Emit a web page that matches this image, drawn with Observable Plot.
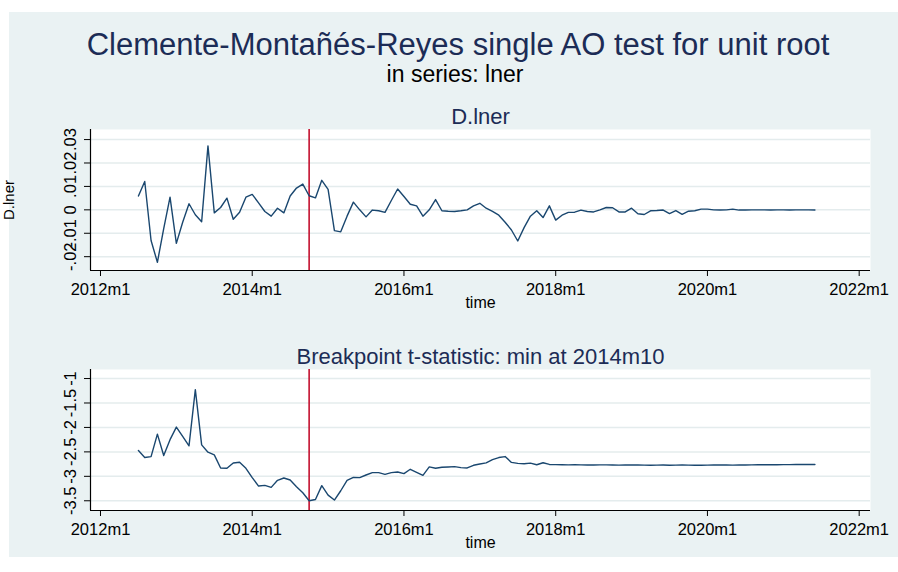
<!DOCTYPE html>
<html><head><meta charset="utf-8">
<script src="https://cdn.jsdelivr.net/npm/d3@7"></script>
<script src="https://cdn.jsdelivr.net/npm/@observablehq/plot@0.6"></script>
<style>
body{margin:0;background:#fff;font-family:"Liberation Sans",Arial,sans-serif;}
#page{position:relative;width:898px;height:572px;overflow:hidden;background:#fff;}
#region{position:absolute;left:9px;top:12px;width:889px;height:545px;background:#eaf2f3;}
.t{position:absolute;width:900px;text-align:center;white-space:nowrap;line-height:1;}
.p{position:absolute;left:0;}
.p svg{overflow:visible;}
</style></head><body>
<div id="page"><div id="region"></div>
<div class="t" id="title" style="left:8px;top:29px;font-size:31px;color:#1c2c56;">Clemente-Montañés-Reyes single AO test for unit root</div>
<div class="t" id="subtitle" style="left:5px;top:63px;font-size:23px;color:#000;">in series: lner</div>
<div class="p" id="top" style="top:100px;"></div>
<div class="p" id="bottom" style="top:340px;"></div>
</div>
<script>
// ---- data (monthly, Stata %tm) ----
const startMonth = "2012m7";
const breakMonth = "2014m10";
const dLner = [
  0.0059, 0.0121, -0.0131, -0.0224, -0.0080, 0.0054,
  -0.0143, -0.0053, 0.0026, -0.0021, -0.0051, 0.0273, -0.0013, 0.0010, 0.0050, -0.0040, -0.0010, 0.0054,
  0.0066, 0.0030, -0.0007, -0.0027, 0.0007, -0.0013, 0.0059, 0.0093, 0.0110, 0.0060, 0.0051, 0.0126,
  0.0087, -0.0089, -0.0094, -0.0027, 0.0033, 0.0000, -0.0030, -0.0001, -0.0004, -0.0011, 0.0040, 0.0089,
  0.0057, 0.0024, 0.0017, -0.0027, 0.0000, 0.0044, -0.0004, -0.0006, -0.0007, -0.0004, 0.0000, 0.0017,
  0.0028, 0.0007, -0.0007, -0.0023, -0.0053, -0.0086, -0.0133, -0.0076, -0.0027, -0.0004, -0.0033, 0.0017,
  -0.0044, -0.0023, -0.0011, -0.0010, -0.0001, -0.0007, -0.0009, 0.0000, 0.0010, 0.0009, -0.0009, -0.0009,
  0.0007, -0.0017, -0.0020, -0.0004, -0.0003, -0.0001, -0.0016, -0.0003, -0.0019, -0.0006, -0.0004, 0.0003,
  0.0003, 0.0000, -0.0001, 0.0000, 0.0003, -0.0001, -0.0001, 0.0000, 0.0000, 0.0000, -0.0001, 0.0000,
  0.0000, -0.0001, 0.0000, 0.0000, 0.0000, -0.0001
];
const tStat = [
  -2.473, -2.616, -2.596, -2.137, -2.575, -2.250,
  -1.993, -2.185, -2.377, -1.226, -2.356, -2.507, -2.562, -2.829, -2.836, -2.726, -2.712, -2.836,
  -3.027, -3.199, -3.185, -3.226, -3.082, -3.034, -3.075, -3.212, -3.336, -3.500, -3.473, -3.190,
  -3.384, -3.485, -3.295, -3.082, -3.021, -3.027, -2.973, -2.925, -2.925, -2.959, -2.925, -2.911,
  -2.945, -2.856, -2.918, -2.979, -2.808, -2.836, -2.815, -2.808, -2.801, -2.822, -2.829, -2.774,
  -2.747, -2.726, -2.658, -2.616, -2.596, -2.715, -2.736, -2.743, -2.730, -2.764, -2.723, -2.757,
  -2.760, -2.762, -2.765, -2.763, -2.766, -2.768, -2.768, -2.766, -2.765, -2.768, -2.770, -2.768,
  -2.766, -2.768, -2.770, -2.772, -2.770, -2.768, -2.772, -2.770, -2.768, -2.770, -2.774, -2.772,
  -2.770, -2.768, -2.768, -2.768, -2.770, -2.768, -2.768, -2.766, -2.762, -2.762, -2.762, -2.762,
  -2.760, -2.760, -2.758, -2.758, -2.758, -2.758
];
const xTickLabels = ["2012m1", "2014m1", "2016m1", "2018m1", "2020m1", "2022m1"];
const topTicks = [-0.02, -0.01, 0, 0.01, 0.02, 0.03];
const topTickLabels = ["-.02", "-.01", "0", ".01", ".02", ".03"];
const botTicks = [-3.5, -3, -2.5, -2, -1.5, -1];
const botTickLabels = ["-3.5", "-3", "-2.5", "-2", "-1.5", "-1"];
const topTitle = "D.lner";
const botTitle = "Breakpoint t-statistic: min at 2014m10";
const topYLabel = "D.lner";
const xLabel = "time";

// ---- helpers ----
const FONT = "Liberation Sans, Arial, sans-serif";
const NAVY = "#1c2c56";
const mIdx = s => { const [y, m] = s.split("m").map(Number); return (y - 2012) * 12 + (m - 1); };
const start = mIdx(startMonth);
const breakIdx = mIdx(breakMonth);
const xTicks = xTickLabels.map(mIdx);
const xDomain = [mIdx("2012m1") - 1.58, mIdx("2022m1") + 1.79];

function panel({values, yDomain, yTicks, yLabels, title, yLabel, height, marginBottom}) {
  const data = values.map((v, i) => ({t: start + i, v}));
  const marks = [
    Plot.frame({fill: "#ffffff", stroke: "none"}),
    Plot.ruleY(yTicks, {stroke: "#e4eced", strokeWidth: 1.5}),
    Plot.ruleX([breakIdx], {stroke: "#c3112f", strokeWidth: 1.6}),
    Plot.line(data, {x: "t", y: "v", stroke: "#1a476f", strokeWidth: 1.4}),
    Plot.ruleX([xDomain[0]], {stroke: "#000", strokeWidth: 1.2}),
    Plot.ruleY([yDomain[0]], {stroke: "#000", strokeWidth: 1.2}),
    Plot.axisX({ticks: xTicks, tickSize: 6, tickPadding: 7, tickFormat: d => xTickLabels[xTicks.indexOf(d)], fontSize: 16.5, label: null, stroke: "#000"}),
    Plot.axisY({ticks: yTicks, tickSize: 6, tickFormat: () => "", label: null, stroke: "#000"}),
    Plot.text(yTicks, {y: d => d, text: d => yLabels[yTicks.indexOf(d)], frameAnchor: "left", dx: -15, rotate: -90, textAnchor: "middle", lineAnchor: "bottom", fontSize: 16.5, fill: "#000"}),
    Plot.text([xLabel], {frameAnchor: "bottom", dy: 37, lineAnchor: "bottom", fontSize: 16, fill: "#000"}),
    Plot.text([title], {frameAnchor: "top", dy: -6, lineAnchor: "bottom", fontSize: 22, fill: NAVY})
  ];
  if (yLabel) marks.push(Plot.text([yLabel], {frameAnchor: "left", dx: -77, rotate: -90, textAnchor: "middle", lineAnchor: "bottom", fontSize: 15, fill: "#000"}));
  return Plot.plot({
    width: 898, height, marginTop: 29, marginBottom, marginLeft: 90, marginRight: 28,
    style: {background: "transparent", fontFamily: FONT, color: "#000", overflow: "visible"},
    x: {type: "linear", domain: xDomain},
    y: {type: "linear", domain: yDomain},
    marks
  });
}

document.getElementById("top").appendChild(panel({
  values: dLner, yDomain: [-0.0259, 0.0343], yTicks: topTicks, yLabels: topTickLabels,
  title: topTitle, yLabel: topYLabel, height: 210, marginBottom: 40
}));
document.getElementById("bottom").appendChild(panel({
  values: tStat, yDomain: [-3.699, -0.815], yTicks: botTicks, yLabels: botTickLabels,
  title: botTitle, yLabel: null, height: 217, marginBottom: 47
}));
</script>
</body></html>
